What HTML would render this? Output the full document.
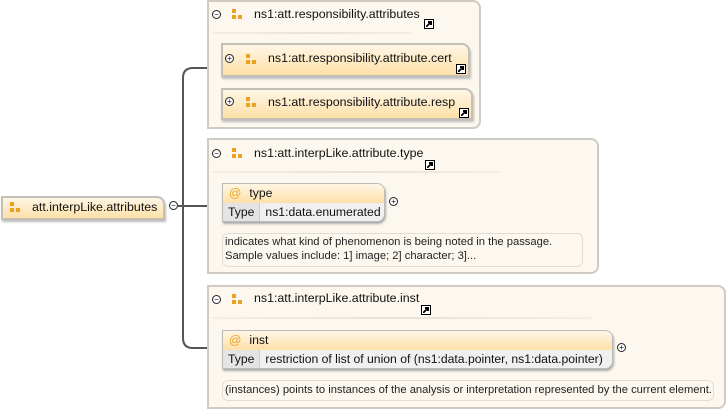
<!DOCTYPE html>
<html><head><meta charset="utf-8"><style>
*{box-sizing:border-box;margin:0;padding:0}
body{width:728px;height:410px;background:#fff;position:relative;overflow:hidden;font-family:"Liberation Sans",sans-serif;font-size:12.4px;color:#111}
.a{position:absolute;white-space:nowrap}
.box{position:absolute;background:#fdf8ef;border:2px solid #cfcac2;border-radius:0 8px 8px 0}
.node{position:absolute;background:linear-gradient(#fff6e6,#fde0a8);border:2px solid #c4c0b8;border-radius:0 8px 0 0;box-shadow:1px 2px 2px #bbb}
.ic{position:absolute;width:10px;height:10px}
.ic i{position:absolute;width:4px;height:4px;background:#eca21f}
.ic i:nth-child(1){left:0;top:0}.ic i:nth-child(2){left:0;top:6px}.ic i:nth-child(3){left:6px;top:6px}
.circ{position:absolute;width:9px;height:9px;border:1px solid #222;border-radius:50%;font-size:8px;line-height:7px;text-align:center;background:#fff}
.ln{position:absolute;width:10px;height:10px;background:#fff;border:1px solid #000}
.ln:after{content:"";position:absolute;left:1px;top:1px;width:6px;height:6px;background:linear-gradient(135deg,transparent 40%,#000 40%,#000 60%,transparent 60%),linear-gradient(#000,#000) right top/4px 2px no-repeat,linear-gradient(#000,#000) right top/2px 4px no-repeat}
.sep{position:absolute;height:2px;background:linear-gradient(90deg,#f4efe6,#e8e2d8,#f4efe6)}
.attr{position:absolute;border:1px solid #bbb;border-radius:0 8px 8px 0;box-shadow:1px 2px 2px #aaa;background:#fff;overflow:hidden;font-size:12.2px;white-space:nowrap}
.attr .h{height:19px;background:linear-gradient(#fff6e6,#fde0a8);padding-left:6px;line-height:19px}
.attr .h b{color:#eca21f;font-weight:normal;margin-right:8px}
.attr .r{height:19px;background:#f0f0f0;line-height:19px;display:flex}
.attr .r span:first-child{background:#e4e4e4;padding:0 5px;border-right:1px solid #ccc}
.attr .r span:last-child{padding-left:5px}
.desc{position:absolute;border:1px solid #e2ddd2;border-radius:6px;background:#fdf8ef;font-size:11.2px;line-height:14px;padding:1px 2px;color:#222;white-space:nowrap}
</style></head><body>
<svg class="a" style="left:0;top:0" width="728" height="410">
<path d="M208 68 H193 Q183 68 183 78 V338 Q183 348 193 348 H222" fill="none" stroke="#555" stroke-width="2"/>
<path d="M178 206 H222" stroke="#555" stroke-width="2"/>
</svg>
<div class="node" style="left:1px;top:196px;width:164px;height:24px"></div>
<div class="ic" style="left:10px;top:202px"><i></i><i></i><i></i></div>
<div class="a" style="left:32px;top:200px">att.interpLike.attributes</div>
<div class="circ" style="left:169px;top:201px">−</div>

<div class="box" style="left:207px;top:0;width:274px;height:129px"></div>
<div class="circ" style="left:212px;top:10px">−</div>
<div class="ic" style="left:232px;top:9px"><i></i><i></i><i></i></div>
<div class="a" style="left:254px;top:7px">ns1:att.responsibility.attributes</div>
<div class="ln" style="left:424px;top:19px"></div>
<div class="sep" style="left:212px;top:32px;width:200px"></div>
<div class="node" style="left:221px;top:43px;width:249px;height:34px"></div>
<div class="circ" style="left:225px;top:54px">+</div>
<div class="ic" style="left:246px;top:54px"><i></i><i></i><i></i></div>
<div class="a" style="left:268px;top:51px">ns1:att.responsibility.attribute.cert</div>
<div class="ln" style="left:456px;top:64px"></div>
<div class="node" style="left:221px;top:88px;width:252px;height:32px"></div>
<div class="circ" style="left:225px;top:97px">+</div>
<div class="ic" style="left:246px;top:97px"><i></i><i></i><i></i></div>
<div class="a" style="left:268px;top:95px">ns1:att.responsibility.attribute.resp</div>
<div class="ln" style="left:459px;top:108px"></div>

<div class="box" style="left:207px;top:138px;width:392px;height:136px"></div>
<div class="circ" style="left:212px;top:149px">−</div>
<div class="ic" style="left:232px;top:148px"><i></i><i></i><i></i></div>
<div class="a" style="left:254px;top:146px">ns1:att.interpLike.attribute.type</div>
<div class="ln" style="left:425px;top:160px"></div>
<div class="sep" style="left:212px;top:171px;width:290px"></div>
<div class="attr" style="left:222px;top:183px;width:163px;height:39px"><div class="h"><b>@</b>type</div><div class="r"><span>Type</span><span>ns1:data.enumerated</span></div></div>
<div class="circ" style="left:389px;top:197px">+</div>
<div class="desc" style="left:222px;top:233px;width:361px;height:34px">indicates what kind of phenomenon is being noted in the passage.<br>Sample values include: 1] image; 2] character; 3]...</div>

<div class="box" style="left:207px;top:285px;width:519px;height:124px"></div>
<div class="circ" style="left:212px;top:295px">−</div>
<div class="ic" style="left:232px;top:294px"><i></i><i></i><i></i></div>
<div class="a" style="left:254px;top:291px">ns1:att.interpLike.attribute.inst</div>
<div class="ln" style="left:421px;top:305px"></div>
<div class="sep" style="left:212px;top:317px;width:380px"></div>
<div class="attr" style="left:222px;top:330px;width:391px;height:39px"><div class="h"><b>@</b>inst</div><div class="r"><span>Type</span><span>restriction of list of union of (ns1:data.pointer, ns1:data.pointer)</span></div></div>
<div class="circ" style="left:617px;top:343px">+</div>
<div class="desc" style="left:222px;top:380px;width:492px;height:21px;padding-top:2px">(instances) points to instances of the analysis or interpretation represented by the current element.</div>
</body></html>
